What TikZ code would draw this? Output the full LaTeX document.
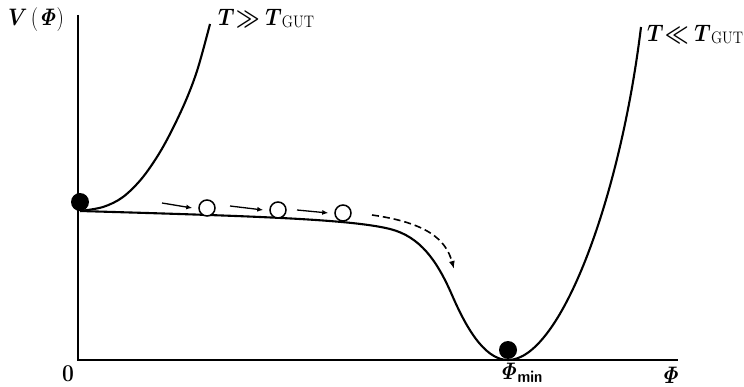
\documentclass[tikz,border=0pt]{standalone}
\usepackage{amsmath}
\usepackage{graphicx}
\usetikzlibrary{arrows.meta}
\newcommand{\bPhi}{\boldsymbol{\mathit{\Phi}}}
\newcommand{\gutsub}{\raisebox{-1pt}{\fontsize{14.5}{17}\selectfont\mdseries GUT}}
\newcommand{\tall}[1]{\scalebox{1}[1.15]{#1}}
\begin{document}
\begin{tikzpicture}[x=1pt,y=-1pt,
  axis/.style={line width=2.3pt},
  curve/.style={line width=2.1pt, line join=round},
  ball/.style={circle, fill=black, inner sep=0pt, minimum size=18pt},
  hollow/.style={circle, draw, line width=1.5pt, fill=white, inner sep=0pt, minimum size=16pt},
  move/.style={line width=1.3pt, -{Latex[length=6pt,width=5pt]}},
  lbl/.style={inner sep=0pt, font=\fontsize{21}{24}\selectfont\bfseries}
]
\useasboundingbox (0,0) rectangle (744,387);
% axes
\coordinate (O) at (78,360);
\coordinate (ytop) at (78,15);
\coordinate (xend) at (678,360);
\draw[axis] (ytop) -- (O) -- (xend);
% high-temperature curve
\draw[curve] plot[smooth, tension=0.55] coordinates {(80,211) (103,207) (123,197) (143,177) (163,147) (183,107) (197,71) (210,24)};
% low-temperature curve
\coordinate (p0) at (80,211);
\coordinate (p1) at (390,229);
\coordinate (p2) at (452,295);
\coordinate (pm) at (508,360);
\coordinate (p4) at (641,27);
\draw[curve] (p0) .. controls (250,216) and (350,219) .. (p1)
  .. controls (420,236.5) and (437,260.5) .. (p2)
  .. controls (464,322.6) and (483,360) .. (pm)
  .. controls (560,360) and (620,200) .. (p4);
% balls
\node[ball] (b0) at (80,202) {};
\node[ball] (b1) at (508,350) {};
\node[hollow] (c1) at (207,208) {};
\node[hollow] (c2) at (278,210) {};
\node[hollow] (c3) at (343,213) {};
\coordinate (a1) at (162,203);
\coordinate (a2) at (230,206);
\coordinate (a3) at (297,210);
\draw[move] (a1) -- ([xshift=-6pt]c1.west);
\draw[move] (a2) -- ([xshift=-6pt]c2.west);
\draw[move] (a3) -- ([xshift=-6pt]c3.west);
% rolling arrow
\coordinate (d0) at (372,215);
\coordinate (d1) at (454,269);
\draw[line width=1.6pt, dash pattern=on 7pt off 4pt, -{Latex[length=8pt,width=6pt]}] (d0) .. controls (428,223) and (446,240) .. (d1);
% labels
\node[lbl] (vl) at (36,20) {\tall{$\boldsymbol{V}\,(\bPhi)$}};
\node[lbl, anchor=base west] (th) at (218,26) {\tall{$\boldsymbol{T}\mkern1mu{\boldsymbol{\gg}}\mkern5mu\boldsymbol{T}$\gutsub}};
\node[lbl, anchor=base west] (tl) at (647,42) {\tall{$\boldsymbol{T}\mkern1mu{\boldsymbol{\ll}}\mkern5mu\boldsymbol{T}$\gutsub}};
\node[lbl] (zero) at (68,374) {\tall{0}};
\node[lbl] (pmin) at (521,373) {\tall{$\bPhi_{\textsf{\textbf{min}}}$}};
\node[lbl] (phi) at (670,375) {\tall{$\bPhi$}};
\end{tikzpicture}
\end{document}
